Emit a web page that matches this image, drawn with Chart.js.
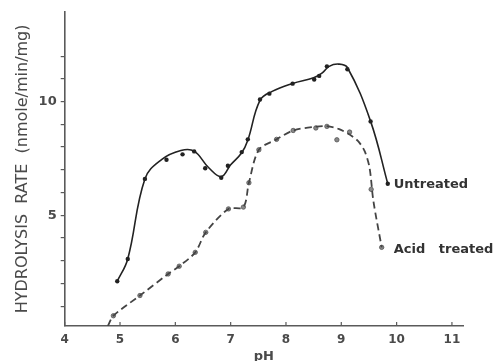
<!DOCTYPE html>
<html>
<head>
<meta charset="utf-8">
<script src="https://cdn.jsdelivr.net/npm/chart.js@4"></script>
<style>
html,body{margin:0;padding:0;background:#fff;}
#wrap{width:499px;height:361px;position:relative;}
</style>
</head>
<body>
<div id="wrap"><canvas id="c" width="499" height="361"></canvas></div>
<script>
const untreatedPH   = [4.95, 5.14, 5.45, 5.84, 6.13, 6.34, 6.54, 6.83, 6.95, 7.20, 7.31, 7.53, 7.70, 8.12, 8.51, 8.60, 8.74, 9.11, 9.53, 9.84];
const untreatedRate = [2.10, 3.08, 6.60, 7.44, 7.68, 7.81, 7.07, 6.65, 7.18, 7.78, 8.34, 10.09, 10.35, 10.79, 10.97, 11.13, 11.55, 11.42, 9.13, 6.39];
const acidPH   = [4.88, 5.36, 5.87, 6.07, 6.36, 6.55, 6.96, 7.23, 7.33, 7.51, 7.83, 8.13, 8.54, 8.74, 8.92, 9.15, 9.54, 9.73];
const acidRate = [0.58, 1.47, 2.42, 2.76, 3.37, 4.25, 5.28, 5.36, 6.43, 7.88, 8.34, 8.73, 8.84, 8.91, 8.32, 8.66, 6.14, 3.59];
// ---- drawn (fitted) curves ----
const untreatedCurvePH   = [4.95, 5.14, 5.45, 5.75, 6.10, 6.34, 6.60, 6.83, 7.00, 7.20, 7.31, 7.53, 7.75, 8.12, 8.50, 8.65, 8.78, 8.95, 9.11, 9.53, 9.84];
const untreatedCurveRate = [2.10, 3.08, 6.60, 7.45, 7.85, 7.82, 7.10, 6.70, 7.22, 7.75, 8.30, 10.05, 10.45, 10.80, 11.05, 11.25, 11.55, 11.65, 11.50, 9.13, 6.39];
const acidCurvePH   = [4.78, 4.88, 5.36, 5.87, 6.07, 6.36, 6.55, 6.96, 7.23, 7.33, 7.51, 7.83, 8.13, 8.54, 8.74, 8.95, 9.15, 9.30, 9.42, 9.51, 9.58, 9.73];
const acidCurveRate = [0.13, 0.58, 1.47, 2.42, 2.76, 3.37, 4.25, 5.28, 5.36, 6.43, 7.88, 8.34, 8.73, 8.90, 8.92, 8.80, 8.55, 8.27, 7.83, 7.10, 5.63, 3.59];
const seriesNames = ["Untreated", "Acid   treated"];
const xTickValues = [4, 5, 6, 7, 8, 9, 10, 11];
const yTickValues = [1, 2, 3, 4, 5, 6, 7, 8, 9, 10, 11, 12];
const yLabelValues = [5, 10];
const xTitle = "pH";
const yTitle = "HYDROLYSIS  RATE  (nmole/min/mg)";

const toPts = (xs, ys) => xs.map((x, i) => ({x: x, y: ys[i]}));
const TXT = '#4a4a4a';
const AX = '#5a5a5a';

const extras = {
  id: 'extras',
  afterDatasetsDraw(chart) {
    const ctx = chart.ctx, xs = chart.scales.x, ys = chart.scales.y;
    const yb = chart.chartArea.bottom;
    ctx.save();
    ctx.strokeStyle = AX; ctx.lineWidth = 1.2;
    xTickValues.forEach(v => {
      const px = xs.getPixelForValue(v);
      ctx.beginPath(); ctx.moveTo(px, yb); ctx.lineTo(px, yb - 4); ctx.stroke();
    });
    ctx.fillStyle = '#333';
    ctx.font = 'bold 13px "DejaVu Sans"';
    ctx.textBaseline = 'middle';
    ctx.textAlign = 'left';
    const ends = [
      {xv: untreatedPH[untreatedPH.length-1], yv: untreatedRate[untreatedRate.length-1], dx: 6, dy: 1},
      {xv: acidPH[acidPH.length-1], yv: acidRate[acidRate.length-1], dx: 12, dy: 2}
    ];
    ends.forEach((e, i) => {
      ctx.fillText(seriesNames[i], xs.getPixelForValue(e.xv) + e.dx, ys.getPixelForValue(e.yv) + e.dy);
    });
    ctx.restore();
  }
};

new Chart(document.getElementById('c'), {
  type: 'line',
  data: {
    datasets: [
      {
        label: seriesNames[0] + ' curve',
        data: toPts(untreatedCurvePH, untreatedCurveRate),
        borderColor: '#222', borderWidth: 1.6, tension: 0.4, pointRadius: 0, fill: false
      },
      {
        label: seriesNames[1] + ' curve',
        data: toPts(acidCurvePH, acidCurveRate),
        borderColor: '#444', borderWidth: 1.8, borderDash: [7, 4], tension: 0.3, pointRadius: 0, fill: false
      },
      {
        label: seriesNames[0],
        data: toPts(untreatedPH, untreatedRate), showLine: false,
        pointRadius: 2.2, pointBackgroundColor: '#222', pointBorderColor: '#222', pointBorderWidth: 0
      },
      {
        label: seriesNames[1],
        data: toPts(acidPH, acidRate), showLine: false,
        pointRadius: 2.2, pointBackgroundColor: '#888', pointBorderColor: '#555', pointBorderWidth: 0.8
      }
    ]
  },
  options: {
    responsive: false, animation: false, devicePixelRatio: 1,
    layout: {padding: {left: 0, top: 10, right: 36, bottom: 0}},
    plugins: {legend: {display: false}, tooltip: {enabled: false}},
    scales: {
      x: {
        type: 'linear', min: 4, max: 11.2,
        afterFit(s) { s.height = 35; },
        afterBuildTicks(s) { s.ticks = xTickValues.map(v => ({value: v})); },
        grid: {drawOnChartArea: false, drawTicks: false},
        border: {color: AX, width: 1.6},
        ticks: {padding: 7, color: TXT, font: {family: 'DejaVu Sans', size: 12, weight: 'bold'}, maxRotation: 0, autoSkip: false},
        title: {display: true, text: xTitle, color: TXT, font: {family: 'DejaVu Sans', size: 13, weight: 'bold', lineHeight: 0.6}, padding: 0}
      },
      y: {
        type: 'linear', min: 0.13, max: 13.95,
        afterFit(s) { s.width = 64.7; },
        afterBuildTicks(s) { s.ticks = yTickValues.map(v => ({value: v})); },
        grid: {drawOnChartArea: false, drawTicks: true, tickLength: 4, color: AX, lineWidth: 1.2},
        border: {color: AX, width: 1.6},
        ticks: {padding: 4, color: TXT, font: {family: 'DejaVu Sans', size: 13, weight: 'bold'},
                callback: v => yLabelValues.includes(v) ? String(v) : ''},
        title: {display: true, text: yTitle, color: TXT, font: {family: 'DejaVu Sans', size: 16}, padding: {top: 13, bottom: 0}}
      }
    }
  },
  plugins: [extras]
});
</script>
</body>
</html>
